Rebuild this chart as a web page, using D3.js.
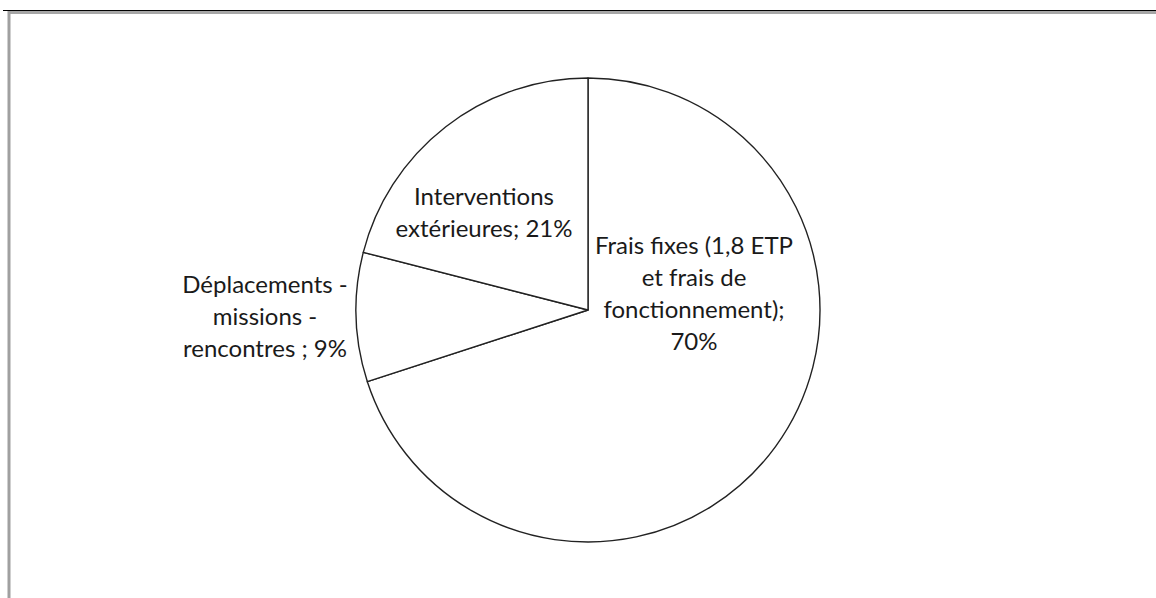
<!DOCTYPE html>
<html>
<head>
<meta charset="utf-8">
<script src="https://cdn.jsdelivr.net/npm/d3@7"></script>
<style>
  html, body { margin: 0; padding: 0; background: #fff; }
  svg { display: block; }
  text { font-family: Lato, "Open Sans", sans-serif; fill: #1a1a1a; }
</style>
</head>
<body>
<svg width="1156" height="598"></svg>
<script>
// data
const categories = ["Frais fixes (1,8 ETP et frais de fonctionnement)", "Déplacements - missions - rencontres", "Interventions extérieures"];
const values = [70, 9, 21];
const labelLines = [
  ["Frais fixes (1,8 ETP", "et frais de", "fonctionnement);", "70%"],
  ["Déplacements -", "missions -", "rencontres ; 9%"],
  ["Interventions", "extérieures; 21%"]
];

let svg = d3.select("svg");
let width = +svg.attr("width"), height = +svg.attr("height");

// frame
svg.append("line").attr("x1", 3).attr("x2", width).attr("y1", 10.5).attr("y2", 10.5)
  .attr("stroke", "#000").attr("stroke-width", 1);
svg.append("line").attr("x1", 8).attr("x2", width).attr("y1", 12.5).attr("y2", 12.5)
  .attr("stroke", "#a6a6a6").attr("stroke-width", 3);
svg.append("line").attr("x1", 9).attr("x2", 9).attr("y1", 11).attr("y2", height)
  .attr("stroke", "#a0a0a0").attr("stroke-width", 3);

let cx = 588, cy = 310, r = 232;

let pie = d3.pie().sort(null).value(d => d)(values);
let arc = d3.arc().innerRadius(0).outerRadius(r);

let g = svg.append("g").attr("transform", `translate(${cx},${cy})`);

g.selectAll("path")
  .data(pie)
  .enter()
  .append("path")
    .attr("d", arc)
    .attr("fill", "#fff")
    .attr("stroke", "#222")
    .attr("stroke-width", 1.4)
    .attr("stroke-linejoin", "round");

// label anchors (centre x, first baseline y) relative to pie centre
let labelPos = [[106, -56], [-323, -17], [-104, -105]];
let lineH = 32;

let labels = svg.append("g").attr("id", "labels");
labelLines.forEach((lines, i) => {
  let t = labels.append("text")
    .attr("text-anchor", "middle")
    .attr("font-size", 24)
    .attr("x", cx + labelPos[i][0])
    .attr("y", cy + labelPos[i][1]);
  lines.forEach((s, j) => {
    t.append("tspan")
      .attr("x", cx + labelPos[i][0])
      .attr("dy", j === 0 ? 0 : lineH)
      .text(s);
  });
});
</script>
</body>
</html>
